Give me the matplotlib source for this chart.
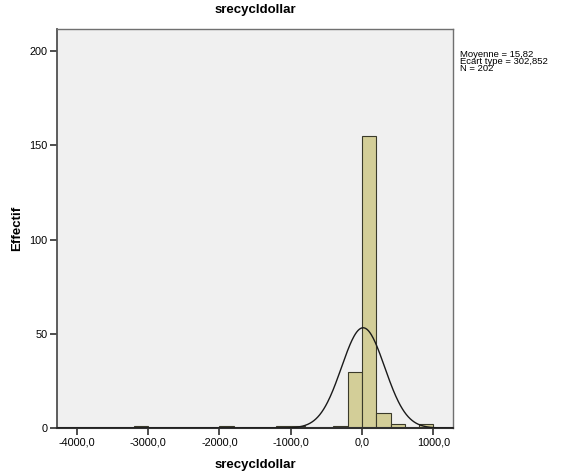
import numpy as np
import matplotlib
matplotlib.use('Agg')
import matplotlib.pyplot as plt

plt.rcParams['font.family'] = ['Liberation Sans', 'DejaVu Sans']

# histogram bins (left edges, width 200) and counts
bin_left = [-3200, -2000, -1200, -1000, -400, -200, 0, 200, 400, 800]
counts = [1, 1, 1, 1, 1, 30, 155, 8, 2, 2]
bin_width = 200

mean = 15.82
std = 302.852
n = 202

xticks = [-4000, -3000, -2000, -1000, 0, 1000]
xtick_labels = ['-4000,0', '-3000,0', '-2000,0', '-1000,0', '0,0', '1000,0']
yticks = [0, 50, 100, 150, 200]

fig = plt.figure(figsize=(5.65, 4.72), dpi=100)
ax = fig.add_axes([0.101, 0.093, 0.701, 0.845])
ax.set_facecolor('#f0f0f0')

ax.bar(bin_left, counts, width=bin_width, align='edge',
       color='#d3ce98', edgecolor='#3a3a2a', linewidth=0.8, zorder=2)

# normal curve scaled to counts
xs = np.linspace(-4275, 1280, 600)
ys = n * bin_width / (std * np.sqrt(2 * np.pi)) * np.exp(-0.5 * ((xs - mean) / std) ** 2)
ax.plot(xs, ys, color='#1a1a1a', linewidth=1.0, zorder=3)

ax.set_xlim(-4275, 1278)
ax.set_ylim(0, 211.5)
ax.set_xticks(xticks)
ax.set_xticklabels(xtick_labels)
ax.set_yticks(yticks)
ax.tick_params(axis='both', labelsize=7.8, length=5, width=1.2, color='#303030', direction='out', pad=2)

for s in ax.spines.values():
    s.set_color('#707070')
    s.set_linewidth(1.0)
ax.spines['bottom'].set_color('#303030')
ax.spines['bottom'].set_linewidth(1.5)
ax.spines['left'].set_color('#505050')
ax.spines['left'].set_linewidth(1.3)

ax.set_title('srecycldollar', fontsize=9.5, fontweight='bold', pad=12)
ax.set_xlabel('srecycldollar', fontsize=9.5, fontweight='bold', labelpad=8)
ax.set_ylabel('Effectif', fontsize=9.5, fontweight='bold', labelpad=4)

fig.text(0.814, 0.895, 'Moyenne = 15,82\nEcart type = 302,852\nN = 202',
         fontsize=6.8, va='top', ha='left', linespacing=0.72)

fig.savefig('out.png', dpi=100)
